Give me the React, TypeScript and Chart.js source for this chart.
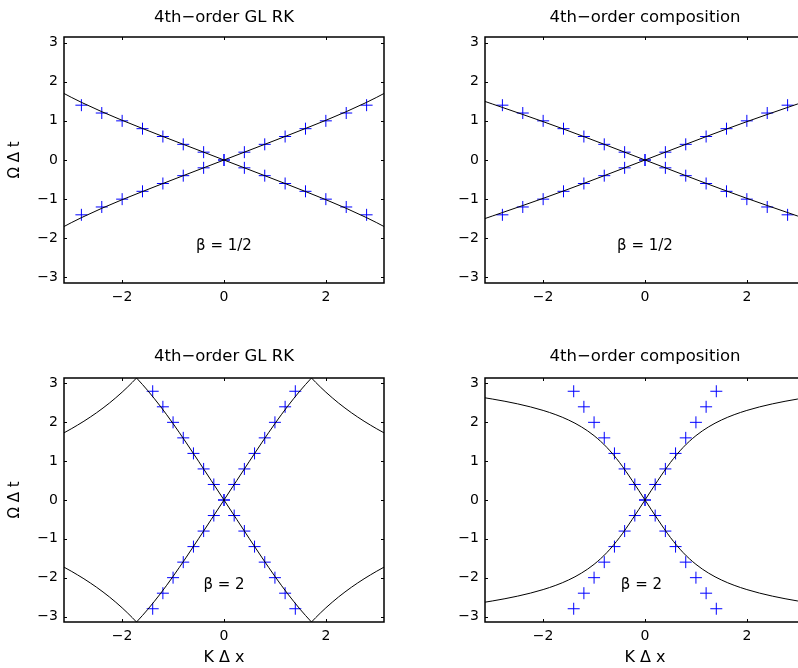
import React, { useEffect, useRef } from "react";
import { Chart, registerables } from "chart.js";

Chart.register(...registerables);

// ---------- tick labels ----------
const xTickValues = [-2, 0, 2];
const yTickValues = [-3, -2, -1, 0, 1, 2, 3];
const AXIS_MIN = -3.1416;
const AXIS_MAX = 3.1416;

// ---------- text ----------
const panelTitles = ["4th\u2212order GL RK", "4th\u2212order composition", "4th\u2212order GL RK", "4th\u2212order composition"];
const betaLabels = ["\u03b2 = 1/2", "\u03b2 = 1/2", "\u03b2 = 2", "\u03b2 = 2"];
const yAxisLabel = "\u03a9 \u0394 t";
const xAxisLabel = "K \u0394 x";

// ---------- markers (exact dispersion, blue +) ----------
const markerKTop = [-2.8, -2.4, -2.0, -1.6, -1.2, -0.8, -0.4, 0, 0.4, 0.8, 1.2, 1.6, 2.0, 2.4, 2.8];
const markerOmegaTop = [-1.4, -1.2, -1.0, -0.8, -0.6, -0.4, -0.2, 0, 0.2, 0.4, 0.6, 0.8, 1.0, 1.2, 1.4];
const markerKBottom = [-1.4, -1.2, -1.0, -0.8, -0.6, -0.4, -0.2, 0, 0.2, 0.4, 0.6, 0.8, 1.0, 1.2, 1.4];
const markerOmegaBottom = [-2.8, -2.4, -2.0, -1.6, -1.2, -0.8, -0.4, 0, 0.4, 0.8, 1.2, 1.6, 2.0, 2.4, 2.8];

// ---------- numerical dispersion curves (K >= 0 halves, curves are odd) ----------
// beta = 1/2
const kTop = [0, 0.4, 0.8, 1.2, 1.6, 2.0, 2.4, 2.8, 3.0, 3.1416];
const glOmegaTop = [0, 0.2, 0.4, 0.601, 0.805, 1.014, 1.234, 1.473, 1.602, 1.699];
const compOmegaTop = [0, 0.2, 0.3996, 0.5972, 0.791, 0.9794, 1.1629, 1.3429, 1.4322, 1.4954];

// beta = 2, GL RK: main branch up to the wrap at Omega = pi, then the aliased branch
const kGlMain = [0, 0.25, 0.5, 0.75, 1.0, 1.25, 1.5, 1.6, 1.7, 1.7178];
const glOmegaMain = [0, 0.5, 0.9988, 1.4913, 1.9674, 2.4144, 2.8222, 2.973, 3.1167, 3.1416];
const kGlOuter = [1.7178, 1.8, 2.0, 2.25, 2.5, 2.75, 3.0, 3.1416];
const glOmegaOuter = [-3.1416, -3.0299, -2.7771, -2.4962, -2.2489, -2.0293, -1.8325, -1.7294];

// beta = 2, composition
const kCompBottom = [0, 0.25, 0.5, 0.75, 1.0, 1.25, 1.5, 1.75, 2.0, 2.25, 2.5, 2.75, 3.0, 3.1416];
const compOmegaBottom = [0, 0.4983, 0.9663, 1.3558, 1.6563, 1.8842, 2.0591, 2.1963, 2.3067, 2.3979, 2.475, 2.5417, 2.6006, 2.6311];

type Pt = { x: number; y: number };

function oddCurve(k: number[], w: number[], sign: number): Pt[] {
  const pts: Pt[] = [];
  for (let i = k.length - 1; i >= 1; i--) pts.push({ x: -k[i], y: -sign * w[i] });
  for (let i = 0; i < k.length; i++) pts.push({ x: k[i], y: sign * w[i] });
  return pts;
}

function sideSegment(k: number[], w: number[], sign: number, side: number): Pt[] {
  const pts = k.map((kv, i) => ({ x: side * kv, y: side * sign * w[i] }));
  return side < 0 ? pts.reverse() : pts;
}

function markers(k: number[], w: number[], sign: number): Pt[] {
  return k.map((kv, i) => ({ x: kv, y: sign * w[i] }));
}

const lineDs = (data: Pt[]) => ({
  data,
  showLine: true,
  borderColor: "#000000",
  borderWidth: 1,
  pointRadius: 0,
  pointHoverRadius: 0,
  cubicInterpolationMode: "monotone",
  order: 0,
});

const markDs = (data: Pt[]) => ({
  data,
  showLine: false,
  pointStyle: "cross",
  pointRadius: 6,
  pointHoverRadius: 6,
  borderColor: "#0000ff",
  pointBorderColor: "#0000ff",
  pointBorderWidth: 1,
  borderWidth: 1,
  order: 1,
});

function datasetsFor(panel: number) {
  if (panel === 0 || panel === 1) {
    const w = panel === 0 ? glOmegaTop : compOmegaTop;
    return [
      markDs(markers(markerKTop, markerOmegaTop, 1)),
      markDs(markers(markerKTop, markerOmegaTop, -1)),
      lineDs(oddCurve(kTop, w, 1)),
      lineDs(oddCurve(kTop, w, -1)),
    ];
  }
  if (panel === 2) {
    const ds: any[] = [
      markDs(markers(markerKBottom, markerOmegaBottom, 1)),
      markDs(markers(markerKBottom, markerOmegaBottom, -1)),
    ];
    for (const s of [1, -1]) {
      ds.push(lineDs(sideSegment(kGlOuter, glOmegaOuter, s, -1)));
      ds.push(lineDs(oddCurve(kGlMain, glOmegaMain, s)));
      ds.push(lineDs(sideSegment(kGlOuter, glOmegaOuter, s, 1)));
    }
    return ds;
  }
  return [
    markDs(markers(markerKBottom, markerOmegaBottom, 1)),
    markDs(markers(markerKBottom, markerOmegaBottom, -1)),
    lineDs(oddCurve(kCompBottom, compOmegaBottom, 1)),
    lineDs(oddCurve(kCompBottom, compOmegaBottom, -1)),
  ];
}

// ---------- layout of the four panels ----------
const panelLayouts = [
  { left: 0, top: 0, w: 399, h: 330, padRight: 15, yWidth: 64, xHeight: 47, titleTop: 8, titleBottom: 9, yTitle: true, xTitle: false, betaX: 0, betaY: -2.2 },
  { left: 399, top: 0, w: 420, h: 330, padRight: 14, yWidth: 86, xHeight: 47, titleTop: 8, titleBottom: 9, yTitle: false, xTitle: false, betaX: 0, betaY: -2.2 },
  { left: 0, top: 330, w: 399, h: 338, padRight: 15, yWidth: 64, xHeight: 46, titleTop: 17, titleBottom: 11, yTitle: true, xTitle: true, betaX: 0, betaY: -2.2 },
  { left: 399, top: 330, w: 420, h: 338, padRight: 14, yWidth: 86, xHeight: 46, titleTop: 17, titleBottom: 11, yTitle: false, xTitle: true, betaX: -0.07, betaY: -2.2 },
];

const FONT = "DejaVu Sans";

const decorPlugin = {
  id: "panelDecor",
  afterDatasetsDraw(chart: any, _args: any, opts: any) {
    const { ctx, chartArea, scales } = chart;
    const { left, right, top, bottom } = chartArea;
    const xs = scales.x;
    const ys = scales.y;
    ctx.save();
    ctx.strokeStyle = "#000";
    ctx.lineWidth = 1;
    const tl = 3;
    ctx.beginPath();
    for (const t of xs.ticks) {
      const px = Math.round(xs.getPixelForValue(t.value)) + 0.5;
      ctx.moveTo(px, bottom);
      ctx.lineTo(px, bottom - tl);
      ctx.moveTo(px, top);
      ctx.lineTo(px, top + tl);
    }
    for (const t of ys.ticks) {
      const py = Math.round(ys.getPixelForValue(t.value)) + 0.5;
      ctx.moveTo(left, py);
      ctx.lineTo(left + tl, py);
      ctx.moveTo(right, py);
      ctx.lineTo(right - tl, py);
    }
    ctx.stroke();
    ctx.lineWidth = 1.5;
    ctx.strokeRect(left, top, right - left, bottom - top);
    if (opts && opts.text) {
      ctx.font = `15px "${FONT}"`;
      ctx.fillStyle = "#000";
      ctx.textAlign = "center";
      ctx.textBaseline = "middle";
      ctx.fillText(opts.text, xs.getPixelForValue(opts.x), ys.getPixelForValue(opts.y));
    }
    ctx.restore();
  },
};

const fmtTick = (v: any) => String(v).replace("-", "\u2212");

function Panel({ index }: { index: number }) {
  const ref = useRef<HTMLCanvasElement | null>(null);
  const L = panelLayouts[index];
  useEffect(() => {
    if (!ref.current) return;
    const chart = new Chart(ref.current, {
      type: "scatter",
      data: { datasets: datasetsFor(index) as any },
      options: {
        animation: false,
        responsive: false,
        devicePixelRatio: 1,
        events: [],
        layout: { padding: { left: 0, right: L.padRight, top: 0, bottom: 0 } },
        plugins: {
          legend: { display: false },
          tooltip: { enabled: false },
          title: {
            display: true,
            text: panelTitles[index],
            fullSize: false,
            color: "#000",
            font: { family: FONT, size: 16.5, weight: "normal", lineHeight: "20px" },
            padding: { top: L.titleTop, bottom: L.titleBottom },
          },
          panelDecor: { text: betaLabels[index], x: L.betaX, y: L.betaY },
        } as any,
        scales: {
          x: {
            type: "linear",
            min: AXIS_MIN,
            max: AXIS_MAX,
            afterBuildTicks: (s: any) => {
              s.ticks = xTickValues.map((v) => ({ value: v }));
            },
            afterFit: (s: any) => {
              s.height = L.xHeight;
            },
            grid: { display: false, drawTicks: false },
            border: { display: false },
            ticks: { color: "#000", font: { family: FONT, size: 14 }, padding: 6, callback: fmtTick, maxRotation: 0 },
            title: {
              display: L.xTitle,
              text: xAxisLabel,
              color: "#000",
              font: { family: FONT, size: 16, lineHeight: "18px" },
              padding: { top: 0, bottom: 1 },
            },
          },
          y: {
            type: "linear",
            min: AXIS_MIN,
            max: AXIS_MAX,
            afterBuildTicks: (s: any) => {
              s.ticks = yTickValues.map((v) => ({ value: v }));
            },
            afterFit: (s: any) => {
              s.width = L.yWidth;
            },
            grid: { display: false, drawTicks: false },
            border: { display: false },
            ticks: { color: "#000", font: { family: FONT, size: 14 }, padding: 6, callback: fmtTick },
            title: {
              display: L.yTitle,
              text: yAxisLabel,
              color: "#000",
              font: { family: FONT, size: 15, lineHeight: "18px" },
              padding: { top: 6.5, bottom: 0 },
            },
          },
        },
      } as any,
      plugins: [decorPlugin as any],
    });
    return () => chart.destroy();
  }, [index]);
  return (
    <canvas
      ref={ref}
      width={L.w}
      height={L.h}
      style={{ position: "absolute", left: L.left, top: L.top, width: L.w, height: L.h }}
    />
  );
}

export default function App() {
  return (
    <div
      style={{
        position: "fixed",
        left: 0,
        top: 0,
        width: 798,
        height: 668,
        overflow: "hidden",
        background: "#ffffff",
      }}
    >
      {[0, 1, 2, 3].map((i) => (
        <Panel key={i} index={i} />
      ))}
    </div>
  );
}
